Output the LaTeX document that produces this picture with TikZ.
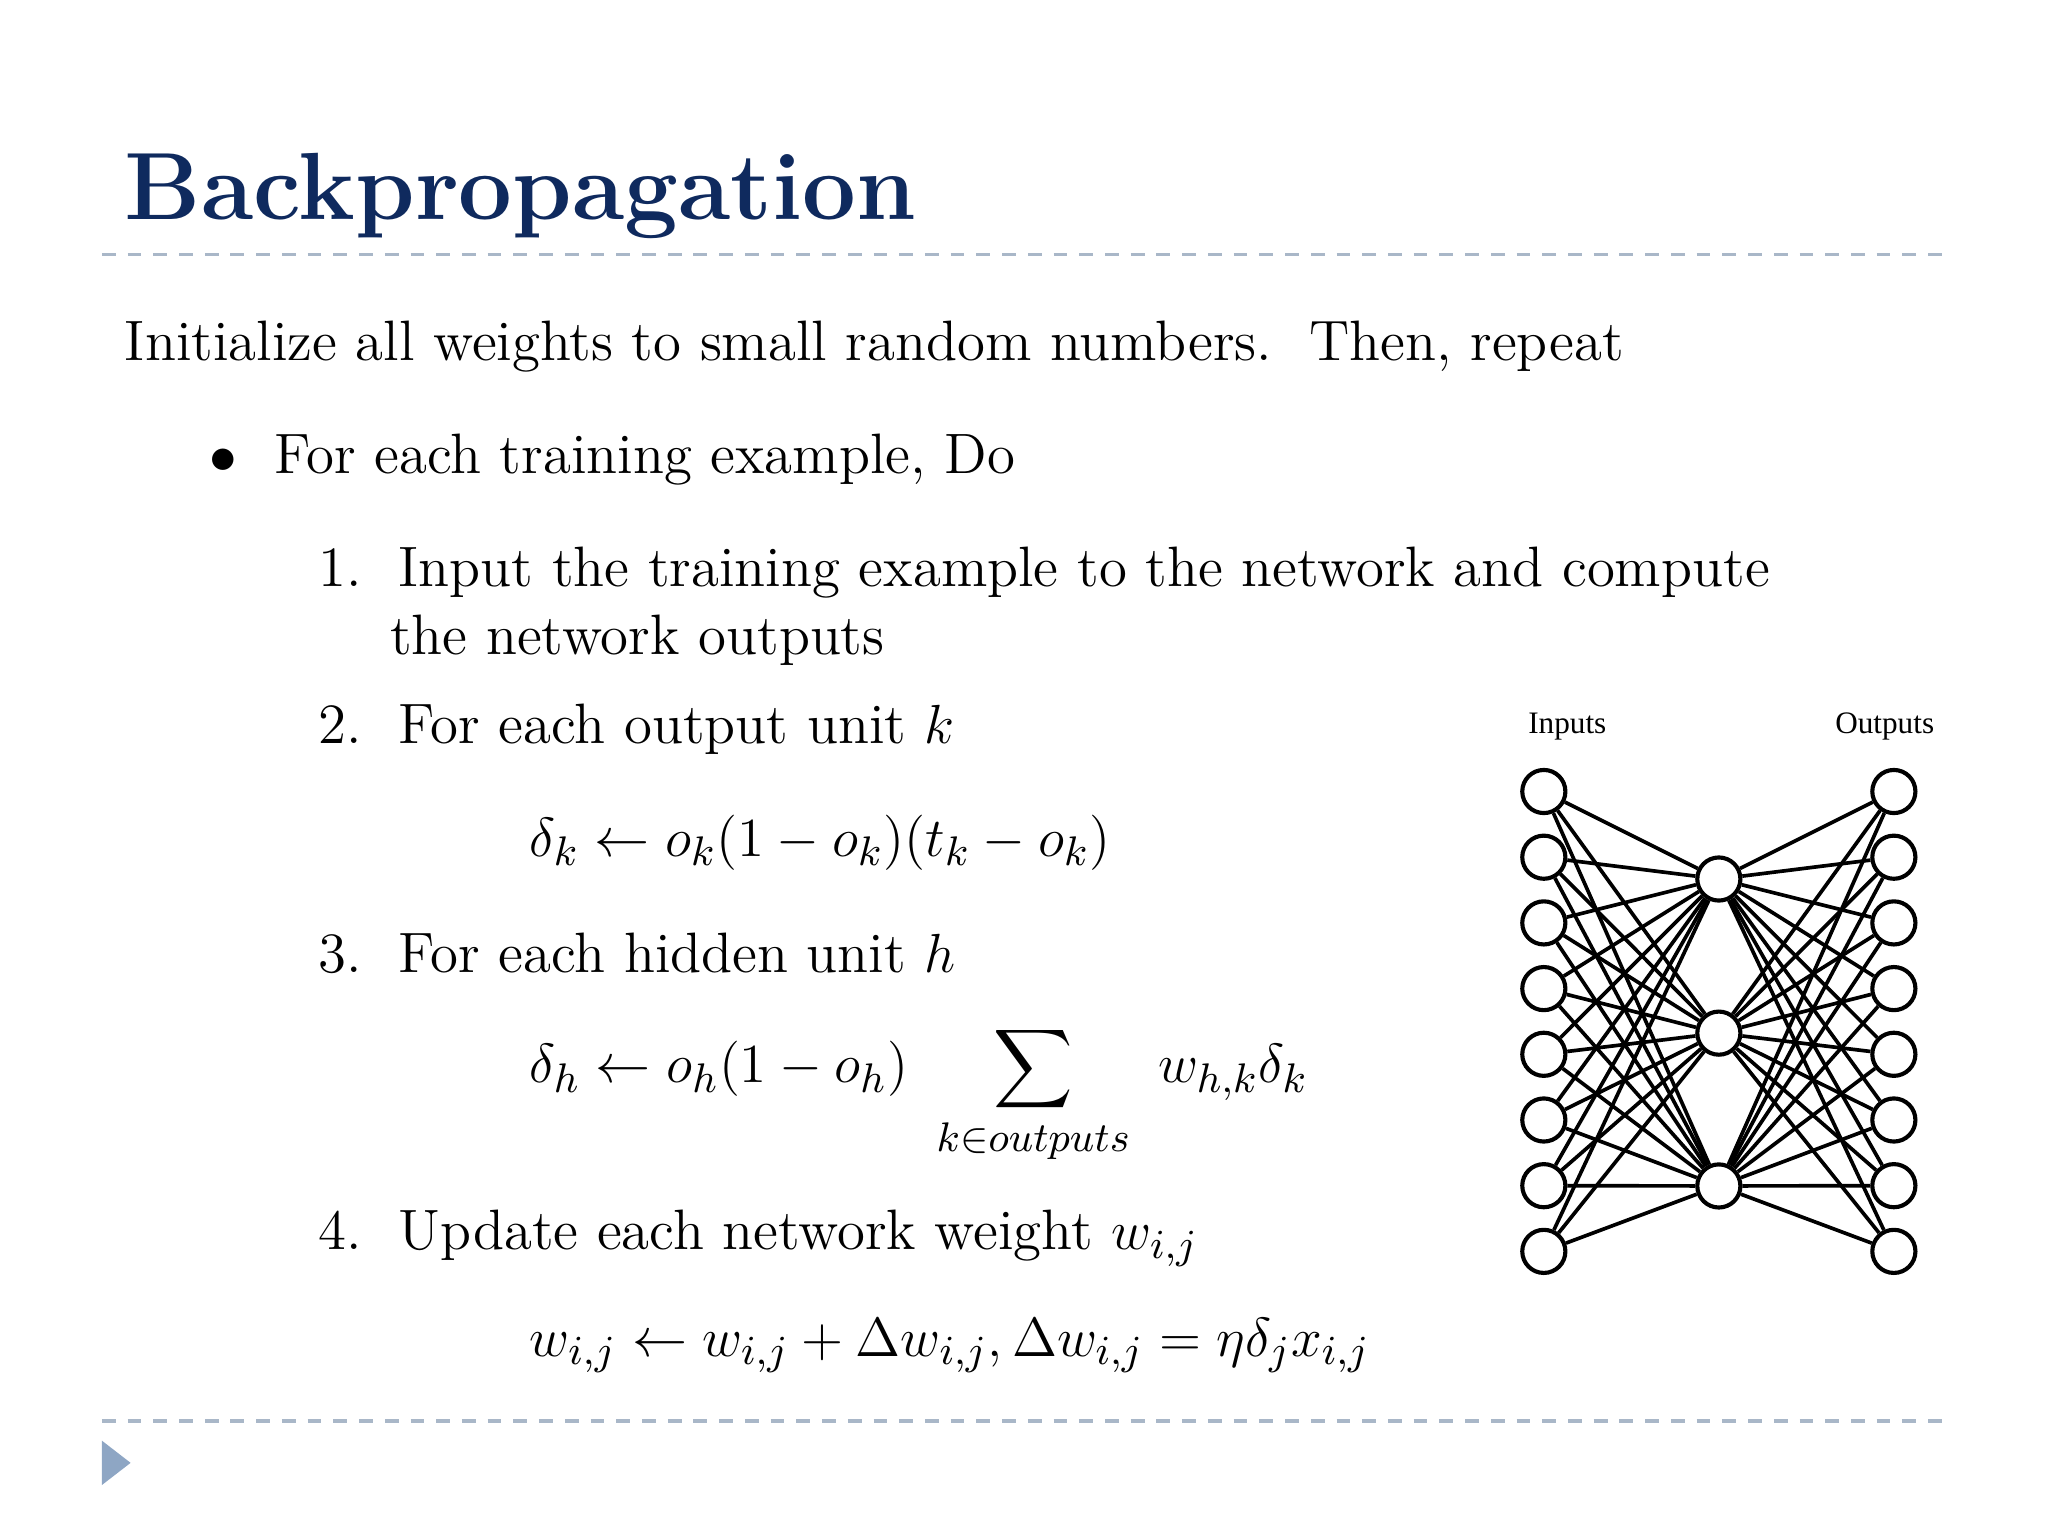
\documentclass[tikz,border=0pt]{standalone}
\usepackage{amsmath}
\usepackage{fontspec}
\newfontfamily\timesf{Liberation Serif}
\definecolor{titleblue}{HTML}{0F2A5E}
\definecolor{rulec}{HTML}{A9B7C8}
\definecolor{tric}{HTML}{8EA6C4}
\begin{document}
\begin{tikzpicture}[x=0.01cm,y=-0.01cm,
  txt/.style={anchor=west,inner sep=0,font=\fontsize{12.4}{15}\selectfont},
  frm/.style={anchor=west,inner sep=0,font=\fontsize{13}{15}\selectfont},
  neuron/.style={circle,draw,line width=0.9pt,minimum size=0.33cm,inner sep=0},
  lab/.style={font=\timesf\fontsize{6.8}{8}\selectfont},
  rul/.style={rulec,line width=0.7pt,dash pattern=on 3pt off 2.6pt}]
\useasboundingbox (0,0) rectangle (1568,1176);
\node[anchor=west,inner sep=0,text=titleblue,font=\fontsize{20.8}{25}\bfseries] (title) at (95,150) {Backpropagation};
\draw[rul] (78,195) -- (1490,195);
\draw[rul] (78,1088) -- (1490,1088);
\fill[tric] (78,1103) -- (100,1120) -- (78,1137) -- cycle;
\node[txt] (l0) at (95,265) {Initialize all weights to small random numbers.\ \ Then, repeat};
\node[txt] (b) at (160,352) {$\bullet$\ \ For each training example, Do};
\node[txt] (i1) at (243,438) {1.\ \ Input the training example to the network and compute};
\node[txt] (i1b) at (298,490) {the network outputs};
\node[txt] (i2) at (243,558) {2.\ \ For each output unit $k$};
\node[frm] (f2) at (405,645) {$\delta_k \leftarrow o_k(1-o_k)(t_k-o_k)$};
\node[txt] (i3) at (243,730) {3.\ \ For each hidden unit $h$};
\node[frm,anchor=north west] (f3) at (405,784) {$\displaystyle\delta_h \leftarrow o_h(1-o_h)\ \sum_{k\in outputs}\ w_{h,k}\delta_k$};
\node[txt] (i4) at (243,948) {4.\ \ Update each network weight $w_{i,j}$};
\node[frm] (f4) at (405,1030) {$w_{i,j}\leftarrow w_{i,j}+\Delta w_{i,j},\Delta w_{i,j}=\eta\delta_j x_{i,j}$};
\foreach \i in {1,...,8}{
  \node[neuron] (in\i) at (1182,{606+(\i-1)*50.3}) {};
  \node[neuron] (out\i) at (1450,{606+(\i-1)*50.3}) {};
}
\node[neuron] (h1) at (1316,673) {};
\node[neuron] (h2) at (1316,791) {};
\node[neuron] (h3) at (1316,908) {};
\foreach \i in {1,...,8}{\foreach \j in {1,2,3}{
  \draw[line width=0.8pt] (in\i) -- (h\j);
  \draw[line width=0.8pt] (h\j) -- (out\i);
}}
\node[lab] (inl) at (1200,556) {Inputs};
\node[lab] (outl) at (1443,556) {Outputs};
\end{tikzpicture}
\end{document}
